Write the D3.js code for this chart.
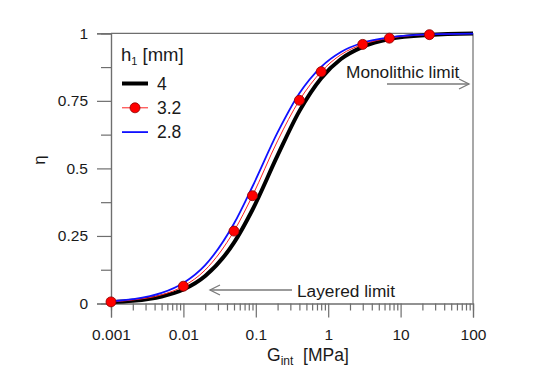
<!DOCTYPE html>
<html>
<head>
<style>
  body { margin: 0; background: #fff; }
  text { font-family: "Liberation Sans", Arial, sans-serif; fill: #1a1a1a; }
</style>
</head>
<body>
<svg width="554" height="390"></svg>
<script src="https://d3js.org/d3.v7.min.js"></script>
<script>
// interface shear modulus G_int [MPa]
var gValues = [0.001, 0.002, 0.005, 0.01, 0.02, 0.05, 0.09, 0.2, 0.4, 0.8, 1.5, 3, 7, 25, 100];
// effective thickness ratio eta for each h1
var eta4  = [0.005, 0.010, 0.026, 0.052, 0.102, 0.225, 0.347, 0.548, 0.712, 0.834, 0.905, 0.950, 0.979, 0.994, 0.999];
var eta32 = [0.006, 0.013, 0.032, 0.064, 0.124, 0.268, 0.399, 0.602, 0.752, 0.858, 0.921, 0.959, 0.982, 0.995, 0.999];
var eta28 = [0.008, 0.016, 0.039, 0.076, 0.142, 0.296, 0.433, 0.633, 0.778, 0.876, 0.931, 0.965, 0.985, 0.996, 0.999];
// marked points on the 3.2 mm curve
var dotG   = [0.001, 0.01, 0.05, 0.09, 0.4, 0.8, 3, 7, 25];
var dotEta = [0.006, 0.064, 0.268, 0.399, 0.752, 0.858, 0.959, 0.982, 0.995];

var xTicks = [0.001, 0.01, 0.1, 1, 10, 100];
var xTickLabels = ["0.001", "0.01", "0.1", "1", "10", "100"];
var yTicks = [0, 0.25, 0.5, 0.75, 1];
var yTickLabels = ["0", "0.25", "0.5", "0.75", "1"];

var series = [
    { key: "4",   values: eta4,  color: "#000000", width: 4 },
    { key: "3.2", values: eta32, color: "#ff2020", width: 1 },
    { key: "2.8", values: eta28, color: "#1010ff", width: 1.8 }
];

function makeChart() {
    var svg = d3.select("svg");
    var axisColor = "#6e6e6e";

    var x = d3.scaleLog().domain([0.001, 100]).range([111, 473]);
    var y = d3.scaleLinear().domain([0, 1]).range([303.5, 33.3]);

    // frame top and right
    svg.append("line").attr("x1", x(0.001)).attr("x2", x(100)).attr("y1", y(1)).attr("y2", y(1))
        .attr("stroke", axisColor).attr("stroke-width", 1.2);
    svg.append("line").attr("x1", x(100)).attr("x2", x(100)).attr("y1", y(1)).attr("y2", y(0))
        .attr("stroke", axisColor).attr("stroke-width", 1.2);

    // x axis with minor ticks
    var minor = [];
    for (var e = -3; e < 2; e++) {
        for (var m = 2; m <= 9; m++) minor.push(m * Math.pow(10, e));
    }
    var gx = svg.append("g").attr("transform", "translate(0," + y(0) + ")");
    gx.call(d3.axisBottom(x).tickValues(minor).tickSize(7).tickFormat(""));
    gx.append("g").call(d3.axisBottom(x).tickValues(xTicks).tickSize(14).tickPadding(11)
        .tickFormat(function(d, i) { return xTickLabels[i]; }));
    gx.selectAll(".domain").attr("stroke", axisColor).attr("stroke-width", 1.2);
    gx.selectAll(".tick line").attr("stroke", axisColor).attr("stroke-width", 1.2);
    gx.selectAll("text").style("font-size", "15.5px").attr("fill", "#1a1a1a");

    // y axis with minor ticks
    var gy = svg.append("g").attr("transform", "translate(" + x(0.001) + ",0)");
    gy.call(d3.axisLeft(y).tickValues([0.125, 0.375, 0.625, 0.875]).tickSize(10).tickFormat(""));
    gy.append("g").call(d3.axisLeft(y).tickValues(yTicks).tickSize(14).tickPadding(9)
        .tickFormat(function(d, i) { return yTickLabels[i]; }));
    gy.selectAll(".domain").attr("stroke", axisColor).attr("stroke-width", 1.2);
    gy.selectAll(".tick line").attr("stroke", axisColor).attr("stroke-width", 1.2);
    gy.selectAll("text").style("font-size", "15.5px").attr("fill", "#1a1a1a");

    // axis titles
    svg.append("text").attr("transform", "translate(45,160) rotate(-90)")
        .attr("text-anchor", "middle").style("font-size", "17px").text("η");
    var xl = svg.append("text").attr("x", 267).attr("y", 361).style("font-size", "17.5px");
    xl.append("tspan").text("G");
    xl.append("tspan").attr("dy", 4).style("font-size", "12px").text("int");
    xl.append("tspan").attr("dy", -4).text("\u00a0\u00a0[MPa]");

    // curves
    var line = d3.line()
        .curve(d3.curveMonotoneX)
        .x(function(d) { return x(d[0]); })
        .y(function(d) { return y(d[1]); });

    svg.selectAll(".curve").data(series).enter().append("path")
        .attr("class", "curve")
        .attr("fill", "none")
        .attr("stroke", function(d) { return d.color; })
        .attr("stroke-width", function(d) { return d.width; })
        .attr("d", function(d) {
            return line(gValues.map(function(g, i) { return [g, d.values[i]]; }));
        });

    svg.selectAll(".dot").data(dotG).enter().append("circle")
        .attr("class", "dot")
        .attr("cx", function(d) { return x(d); })
        .attr("cy", function(d, i) { return y(dotEta[i]); })
        .attr("r", 5)
        .attr("fill", "#ff0000")
        .attr("stroke", "#8a0000")
        .attr("stroke-width", 0.8);

    // legend
    var lg = svg.append("g");
    var title = lg.append("text").attr("x", 121).attr("y", 61).style("font-size", "18.5px");
    title.append("tspan").text("h");
    title.append("tspan").attr("dy", 4).style("font-size", "11px").text("1");
    title.append("tspan").attr("dy", -4).text(" [mm]");
    series.forEach(function(s, i) {
        var ly = 83.5 + i * 24.3;
        lg.append("line").attr("x1", 122).attr("x2", 148).attr("y1", ly).attr("y2", ly)
            .attr("stroke", s.color).attr("stroke-width", s.width);
        if (s.key === "3.2") {
            lg.append("circle").attr("cx", 135).attr("cy", ly).attr("r", 5)
                .attr("fill", "#ff0000").attr("stroke", "#8a0000").attr("stroke-width", 0.8);
        }
        lg.append("text").attr("x", 157).attr("y", ly).attr("dy", "0.36em")
            .style("font-size", "17.5px").text(s.key);
    });

    // annotations
    var arrowColor = "#7a7a7a";
    function arrow(x1, x2, yy) {
        var dir = x2 > x1 ? 1 : -1;
        svg.append("line").attr("x1", x1).attr("x2", x2).attr("y1", yy).attr("y2", yy)
            .attr("stroke", arrowColor).attr("stroke-width", 1.5);
        svg.append("path")
            .attr("d", "M" + (x2 - dir * 10) + "," + (yy - 5) + "L" + x2 + "," + yy + "L" + (x2 - dir * 10) + "," + (yy + 5))
            .attr("fill", "none").attr("stroke", arrowColor).attr("stroke-width", 1.3);
    }
    svg.append("text").attr("x", 346).attr("y", 78).style("font-size", "17.3px").text("Monolithic limit");
    arrow(387, 469, 84);
    svg.append("text").attr("x", 297).attr("y", 297).style("font-size", "17.3px").text("Layered limit");
    arrow(292, 210, 290);
}

makeChart();
</script>
</body>
</html>
